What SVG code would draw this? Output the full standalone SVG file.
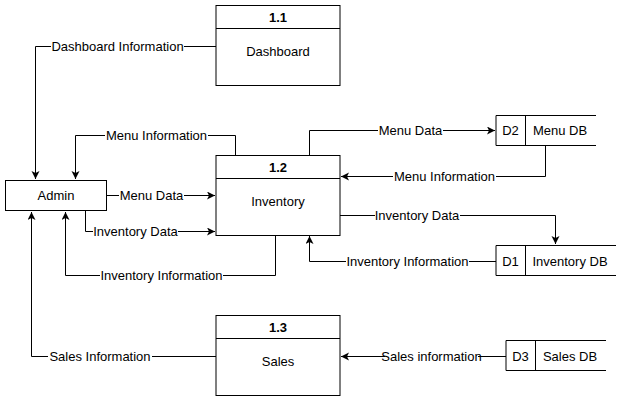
<svg xmlns="http://www.w3.org/2000/svg" width="621" height="401" viewBox="0 0 621 401">
<style>
.box{fill:#fff;stroke:#000;stroke-width:1}
.ln{fill:none;stroke:#000;stroke-width:1}
.t{font-family:"Liberation Sans",Arial,sans-serif;font-size:13px;fill:#000;text-anchor:middle;dominant-baseline:central}
.b{font-weight:bold}
.lb{font-family:"Liberation Sans",Arial,sans-serif;font-size:13px;fill:#000;text-anchor:middle;dominant-baseline:central}
.bg{fill:#fff;stroke:none}
</style>
<defs>
<marker id="arr" markerWidth="10" markerHeight="10" refX="8" refY="4" orient="auto" markerUnits="userSpaceOnUse">
<path d="M0,0 L8,4 L0,8 L2,4 z" fill="#000"/>
</marker>
</defs>
<rect width="621" height="401" fill="#fff"/>
<g id="connectors">
<path class="ln" d="M216,46.5 H35.5 V179" marker-end="url(#arr)"/>
<path class="ln" d="M235.5,155 V135.5 H75.5 V179" marker-end="url(#arr)"/>
<path class="ln" d="M106,195.5 H215" marker-end="url(#arr)"/>
<path class="ln" d="M85.5,211 V231.5 H215" marker-end="url(#arr)"/>
<path class="ln" d="M275.5,235 V275.5 H65.5 V212" marker-end="url(#arr)"/>
<path class="ln" d="M216,356.5 H31.5 V212" marker-end="url(#arr)"/>
<path class="ln" d="M309.5,155 V130.5 H495" marker-end="url(#arr)"/>
<path class="ln" d="M545.5,145 V176.5 H341" marker-end="url(#arr)"/>
<path class="ln" d="M340,215.5 H555.5 V244" marker-end="url(#arr)"/>
<path class="ln" d="M496,261.5 H309.5 V236" marker-end="url(#arr)"/>
<path class="ln" d="M506,356.5 H341" marker-end="url(#arr)"/>
<rect class="bg" x="51" y="39" width="133" height="15"/>
<text class="lb" x="117.5" y="46.5">Dashboard Information</text>
<rect class="bg" x="105" y="128" width="103" height="15"/>
<text class="lb" x="156.5" y="135.5">Menu Information</text>
<rect class="bg" x="119" y="188" width="65" height="15"/>
<text class="lb" x="151.5" y="195.5">Menu Data</text>
<rect class="bg" x="93" y="224" width="85" height="15"/>
<text class="lb" x="135.5" y="231.5">Inventory Data</text>
<rect class="bg" x="100" y="268" width="123" height="15"/>
<text class="lb" x="161.5" y="275.5">Inventory Information</text>
<rect class="bg" x="48" y="349" width="104" height="15"/>
<text class="lb" x="100" y="356.5">Sales Information</text>
<rect class="bg" x="378" y="123" width="65" height="15"/>
<text class="lb" x="410.5" y="130.5">Menu Data</text>
<rect class="bg" x="393" y="169" width="103" height="15"/>
<text class="lb" x="444.5" y="176.5">Menu Information</text>
<rect class="bg" x="375" y="208" width="85" height="15"/>
<text class="lb" x="417" y="215.5">Inventory Data</text>
<rect class="bg" x="346" y="254" width="123" height="15"/>
<text class="lb" x="407.5" y="261.5">Inventory Information</text>
<rect class="bg" x="385" y="349" width="93" height="15"/>
<text class="lb" x="431.5" y="356.5">Sales information</text>
</g>
<g id="p11">
<rect class="box" x="216" y="5.5" width="124" height="80"/>
<line class="ln" x1="216" y1="28.5" x2="340" y2="28.5"/>
<text class="t b" x="278" y="17.5">1.1</text>
<text class="t" x="278" y="51.5">Dashboard</text>
</g>
<g id="p12">
<rect class="box" x="216" y="155.5" width="124" height="80"/>
<line class="ln" x1="216" y1="178.5" x2="340" y2="178.5"/>
<text class="t b" x="278" y="167.5">1.2</text>
<text class="t" x="278" y="201.5">Inventory</text>
</g>
<g id="p13">
<rect class="box" x="216" y="315.5" width="124" height="80"/>
<line class="ln" x1="216" y1="338.5" x2="340" y2="338.5"/>
<text class="t b" x="278" y="327.5">1.3</text>
<text class="t" x="278" y="361.5">Sales</text>
</g>
<g id="admin">
<rect class="box" x="5.5" y="180.5" width="101" height="30"/>
<text class="t" x="56" y="195.5">Admin</text>
</g>
<g id="d2">
<path class="ln" d="M596,115.5 H496 V145.5 H596 M525.5,115.5 V145.5"/>
<text class="t" x="510.5" y="130.5">D2</text>
<text class="t" x="560" y="130.5">Menu DB</text>
</g>
<g id="d1">
<path class="ln" d="M616,245.5 H496 V275.5 H616 M525.5,245.5 V275.5"/>
<text class="t" x="510.5" y="261">D1</text>
<text class="t" x="570" y="261">Inventory DB</text>
</g>
<g id="d3">
<path class="ln" d="M606,340.5 H506 V370.5 H606 M535.5,340.5 V370.5"/>
<text class="t" x="520.5" y="356">D3</text>
<text class="t" x="570" y="356">Sales DB</text>
</g>
</svg>
